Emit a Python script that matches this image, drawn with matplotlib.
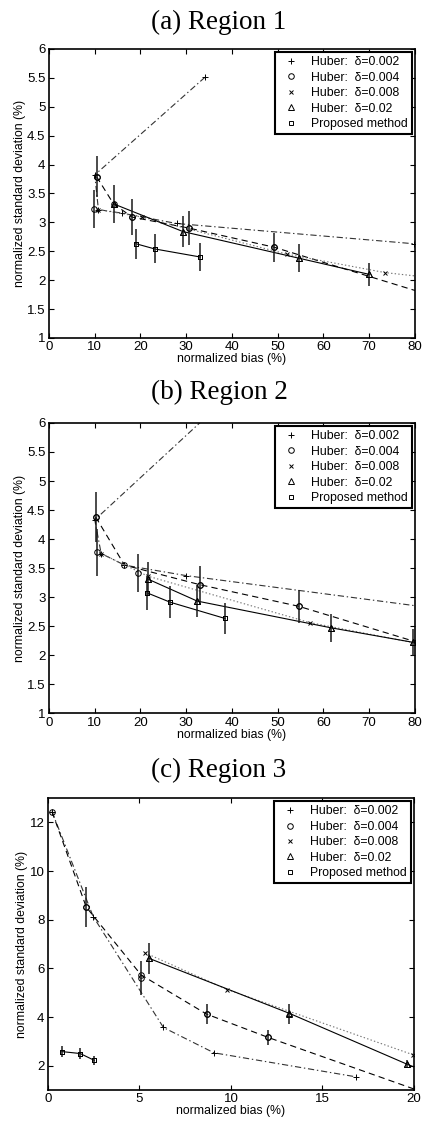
import matplotlib
matplotlib.use('Agg')
import matplotlib.pyplot as plt
from matplotlib.lines import Line2D

plt.rcParams['font.family'] = ['Liberation Sans', 'DejaVu Sans']
plt.rcParams['lines.scale_dashes'] = False

TITLES = ['(a) Region 1', '(b) Region 2', '(c) Region 3']
LABELS = ['Huber:  \u03b4=0.002', 'Huber:  \u03b4=0.004', 'Huber:  \u03b4=0.008',
          'Huber:  \u03b4=0.02', 'Proposed method']

# ---- region 1: line vertices ----
r1_d002_x = [34.1, 10.0, 10.8, 15.9, 27.9, 79.7]
r1_d002_y = [5.51, 3.82, 3.22, 3.16, 2.98, 2.63]
r1_d004_x = [10.4, 14.1, 18.2, 30.6, 49.2, 85.0]
r1_d004_y = [3.79, 3.32, 3.09, 2.90, 2.57, 1.70]
r1_d008_x = [10.8, 20.4, 52.0, 73.5, 85.0]
r1_d008_y = [3.22, 3.09, 2.45, 2.13, 2.03]
r1_d02_x = [14.1, 29.3, 54.6, 70.0]
r1_d02_y = [3.32, 2.84, 2.38, 2.10]
r1_prop_x = [19.0, 23.1, 33.1]
r1_prop_y = [2.63, 2.54, 2.40]
# region 1: error bars (x, y, half length)
r1_d004_ex = [9.9, 10.4, 18.2, 30.6, 49.2]
r1_d004_ey = [3.23, 3.79, 3.09, 2.90, 2.57]
r1_d004_ee = [0.33, 0.36, 0.31, 0.29, 0.25]
r1_d02_ex = [14.1, 29.3, 54.6, 70.0]
r1_d02_ey = [3.32, 2.84, 2.38, 2.10]
r1_d02_ee = [0.33, 0.27, 0.24, 0.20]
r1_prop_ex = [19.0, 23.1, 33.1]
r1_prop_ey = [2.63, 2.54, 2.40]
r1_prop_ee = [0.26, 0.25, 0.24]

# ---- region 2 ----
r2_d002_x = [42.0, 10.0, 11.4, 16.5, 29.9, 82.0]
r2_d002_y = [6.66, 4.33, 3.75, 3.55, 3.37, 2.83]
r2_d004_x = [10.2, 16.5, 33.1, 54.6, 80.5]
r2_d004_y = [4.38, 3.55, 3.21, 2.84, 2.22]
r2_d008_x = [11.4, 21.6, 57.0, 80.5]
r2_d008_y = [3.75, 3.36, 2.56, 2.20]
r2_d02_x = [21.6, 32.4, 61.6, 79.5, 81.0]
r2_d02_y = [3.31, 2.93, 2.47, 2.22, 2.20]
r2_prop_x = [21.5, 26.5, 38.5]
r2_prop_y = [3.07, 2.91, 2.63]
r2_d004_ex = [10.2, 10.6, 19.4, 33.1, 54.6]
r2_d004_ey = [4.38, 3.77, 3.42, 3.21, 2.84]
r2_d004_ee = [0.43, 0.40, 0.33, 0.33, 0.28]
r2_d02_ex = [21.6, 32.4, 61.6, 79.5]
r2_d02_ey = [3.31, 2.93, 2.47, 2.22]
r2_d02_ee = [0.30, 0.28, 0.24, 0.23]
r2_prop_ex = [21.5, 26.5, 38.5]
r2_prop_ey = [3.07, 2.91, 2.63]
r2_prop_ee = [0.30, 0.28, 0.26]

# ---- region 3 ----
r3_d002_x = [0.22, 2.47, 6.31, 9.07, 16.85]
r3_d002_y = [12.44, 8.13, 3.57, 2.53, 1.54]
r3_d004_x = [0.22, 2.09, 5.09, 8.67, 12.04, 20.2]
r3_d004_y = [12.44, 8.52, 5.73, 4.12, 3.16, 0.99]
r3_d008_x = [5.30, 9.80, 19.95]
r3_d008_y = [6.64, 5.13, 2.45]
r3_d02_x = [5.53, 13.2, 19.6, 20.5]
r3_d02_y = [6.41, 4.15, 2.07, 1.80]
r3_prop_x = [0.76, 1.76, 2.53]
r3_prop_y = [2.58, 2.50, 2.22]
r3_d004_ex = [2.09, 5.09, 8.67, 12.04]
r3_d004_ey = [8.52, 5.60, 4.12, 3.16]
r3_d004_ee = [0.83, 0.70, 0.41, 0.32]
r3_d02_ex = [5.53, 13.2, 19.6]
r3_d02_ey = [6.41, 4.13, 2.07]
r3_d02_ee = [0.63, 0.41, 0.17]
r3_prop_ex = [0.76, 1.76, 2.53]
r3_prop_ey = [2.58, 2.50, 2.22]
r3_prop_ee = [0.24, 0.22, 0.18]

MARKERS = ['+', 'o', 'x', '^', 's']
DASHES = [(0, (4.5, 2, 1, 2)), (0, (4.5, 3)), (0, (1, 1.6)), '-', '-']
LCOLORS = ['0.2', 'k', '0.45', 'k', 'k']
MSIZE = [4.5, 4, 3.5, 4, 3.5]


def draw(ax, lines, bars, xlim, ylim, xticks, yticks, yticklabels):
    for i, (xs, ys) in enumerate(lines):
        ax.plot(xs, ys, linestyle=DASHES[i], color=LCOLORS[i], lw=0.8,
                marker=MARKERS[i], ms=MSIZE[i], mfc='none', mec='k', mew=0.7)
    for i, (ex, ey, ee) in bars:
        ax.errorbar(ex, ey, yerr=ee, fmt=MARKERS[i], ms=MSIZE[i], mfc='none',
                    mec='k', mew=0.7, ecolor='0.1', elinewidth=1.1, capsize=0)
    ax.set_xlim(*xlim)
    ax.set_ylim(*ylim)
    ax.set_xticks(xticks)
    ax.set_yticks(yticks)
    ax.set_yticklabels(yticklabels)
    ax.tick_params(direction='in', length=3.5, width=0.8, labelsize=9.5,
                   top=True, right=True, pad=2.5)
    for s in ax.spines.values():
        s.set_linewidth(1.2)
    ax.set_xlabel('normalized bias (%)', fontsize=8.8, labelpad=0)
    ax.set_ylabel('normalized standard deviation (%)', fontsize=8.8, labelpad=1)
    handles = [Line2D([], [], linestyle='none', marker=MARKERS[i], ms=MSIZE[i],
                      mfc='none', mec='k', mew=0.7) for i in range(5)]
    leg = ax.legend(handles, LABELS, loc='upper right', fontsize=8.8,
                    fancybox=False, edgecolor='k', framealpha=1,
                    borderaxespad=0.25, labelspacing=0.28, handlelength=2.0,
                    handletextpad=0.6, borderpad=0.35)
    leg.get_frame().set_linewidth(1.5)


fig = plt.figure(figsize=(4.24, 11.22), dpi=100)

lin_ticks = [1, 1.5, 2, 2.5, 3, 3.5, 4, 4.5, 5, 5.5, 6]
lin_labels = ['1', '1.5', '2', '2.5', '3', '3.5', '4', '4.5', '5', '5.5', '6']

ax1 = fig.add_axes([0.1156, 0.6988, 0.863, 0.2576])
draw(ax1,
     [(r1_d002_x, r1_d002_y), (r1_d004_x, r1_d004_y), (r1_d008_x, r1_d008_y),
      (r1_d02_x, r1_d02_y), (r1_prop_x, r1_prop_y)],
     [(1, (r1_d004_ex, r1_d004_ey, r1_d004_ee)),
      (3, (r1_d02_ex, r1_d02_ey, r1_d02_ee)),
      (4, (r1_prop_ex, r1_prop_ey, r1_prop_ee))],
     (0, 80), (1, 6), range(0, 81, 10), lin_ticks, lin_labels)

ax2 = fig.add_axes([0.1156, 0.3645, 0.863, 0.2585])
draw(ax2,
     [(r2_d002_x, r2_d002_y), (r2_d004_x, r2_d004_y), (r2_d008_x, r2_d008_y),
      (r2_d02_x, r2_d02_y), (r2_prop_x, r2_prop_y)],
     [(1, (r2_d004_ex, r2_d004_ey, r2_d004_ee)),
      (3, (r2_d02_ex, r2_d02_ey, r2_d02_ee)),
      (4, (r2_prop_ex, r2_prop_ey, r2_prop_ee))],
     (0, 80), (1, 6), range(0, 81, 10), lin_ticks, lin_labels)

ax3 = fig.add_axes([0.1132, 0.0285, 0.863, 0.2602])
draw(ax3,
     [(r3_d002_x, r3_d002_y), (r3_d004_x, r3_d004_y), (r3_d008_x, r3_d008_y),
      (r3_d02_x, r3_d02_y), (r3_prop_x, r3_prop_y)],
     [(1, (r3_d004_ex, r3_d004_ey, r3_d004_ee)),
      (3, (r3_d02_ex, r3_d02_ey, r3_d02_ee)),
      (4, (r3_prop_ex, r3_prop_ey, r3_prop_ee))],
     (0, 20), (1, 13), range(0, 21, 5), range(2, 13, 2),
     [str(v) for v in range(2, 13, 2)])

for t, y in zip(TITLES, [22, 392, 770]):
    fig.text(219 / 424, 1 - y / 1122, t, ha='center', va='center',
             fontsize=19.5, family=['Liberation Serif', 'DejaVu Serif'])

fig.savefig('out.png', dpi=100)
